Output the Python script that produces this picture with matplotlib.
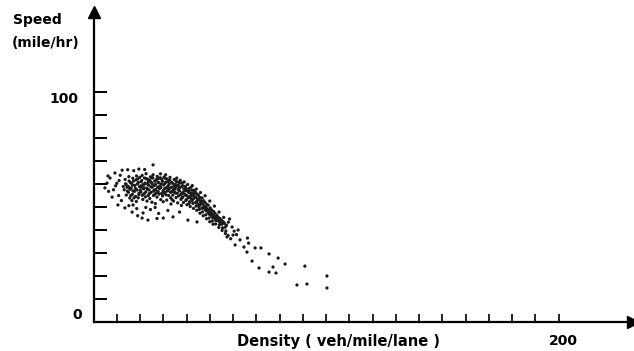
import numpy as np
import matplotlib
matplotlib.use("Agg")
import matplotlib.pyplot as plt

core_points = [
    (13.2,57.5),(13.8,60.1),(14.1,55.2),(13.6,62.0),(14.4,58.6),
    (15.0,56.4),(15.3,61.3),(14.9,59.0),(15.6,53.9),(15.2,63.2),(15.8,57.7),
    (16.4,60.2),(16.7,55.5),(16.2,58.3),(16.9,62.5),(16.5,52.8),(17.0,57.0),
    (17.8,59.4),(18.1,54.6),(18.3,61.8),(17.6,56.8),(18.5,63.5),(18.0,58.1),(18.4,52.4),
    (19.3,60.7),(19.6,56.0),(19.9,62.9),(19.2,54.0),(19.8,58.8),(20.1,57.3),
    (20.7,61.5),(21.0,55.1),(21.3,59.7),(20.9,63.7),(21.5,57.9),(21.2,53.3),(20.6,58.6),
    (22.2,60.4),(22.5,56.6),(22.8,62.3),(22.3,54.4),(22.9,58.2),(22.6,64.5),(23.0,52.6),
    (23.7,59.5),(24.0,55.8),(24.3,61.6),(23.9,57.4),(24.5,63.1),(24.2,53.7),(23.6,60.9),
    (25.2,58.6),(25.5,62.6),(25.8,55.0),(25.3,60.0),(25.9,56.9),(25.6,64.0),(25.1,52.1),
    (26.7,59.8),(27.0,61.9),(27.3,54.3),(26.8,57.6),(27.4,63.3),(27.1,56.2),(26.6,51.5),
    (28.1,60.5),(28.4,58.0),(28.7,62.7),(28.2,55.6),(28.9,53.2),(28.5,59.1),(28.8,64.4),
    (29.6,61.2),(29.9,57.1),(30.2,59.6),(29.7,54.8),(30.3,63.0),(30.0,52.3),(30.4,56.0),
    (31.1,60.8),(31.4,58.4),(31.7,62.1),(31.2,55.3),(31.8,57.0),(31.5,53.0),(31.0,64.0),
    (32.5,59.9),(32.8,61.7),(33.1,56.4),(32.6,58.0),(33.2,54.0),(32.9,62.9),(33.3,51.3),
    (34.0,60.3),(34.3,57.5),(34.6,59.0),(34.1,55.2),(34.7,62.0),(34.4,52.6),(34.8,56.6),
    (35.4,58.7),(35.7,61.0),(36.0,56.0),(35.5,54.1),(36.1,59.6),(35.8,62.6),(36.2,51.8),
    (36.9,58.2),(37.2,60.4),(37.5,55.4),(37.0,57.0),(37.6,53.3),(37.3,61.6),(37.8,50.7),
    (38.3,59.3),(38.6,56.5),(38.9,57.9),(38.4,54.4),(39.0,60.9),(38.7,52.0),(39.2,55.6),
    (39.8,58.0),(40.1,55.0),(40.4,56.9),(39.9,53.2),(40.5,59.8),(40.2,51.0),(40.7,54.0),
    (41.2,57.1),(41.5,54.6),(41.8,55.9),(41.3,52.3),(41.9,58.6),(41.6,50.2),(42.1,53.6),
    (42.6,55.8),(42.9,53.5),(43.2,57.2),(42.7,51.6),(43.3,54.7),(43.0,49.4),(43.5,56.0),
    (44.0,54.2),(44.3,52.3),(44.6,55.6),(44.1,50.4),(44.7,53.2),(44.4,48.6),(44.9,51.3),
    (45.4,53.0),(45.7,50.8),(46.0,54.0),(45.5,49.0),(46.1,51.9),(45.8,47.3),(46.3,52.6),
    (46.8,51.4),(47.1,49.6),(47.4,52.7),(46.9,47.9),(47.5,50.5),(47.2,46.2),
    (48.2,50.0),(48.5,48.3),(48.8,51.0),(48.3,46.6),(48.9,49.2),(48.6,44.9),
    (49.6,48.5),(49.9,46.8),(50.2,49.6),(49.7,45.2),(50.3,47.6),(50.0,43.6),
    (51.0,47.0),(51.3,45.3),(51.6,48.1),(51.1,43.9),(51.7,46.2),(51.4,42.5),
    (52.4,45.6),(52.7,44.0),(53.0,46.5),(52.5,42.6),(53.1,44.8),
    (53.8,43.9),(54.1,42.3),(54.4,45.0),(53.9,41.1),(54.5,43.4),
    (55.2,42.5),(55.5,40.9),(55.8,43.6),(55.3,39.8),
    (56.6,41.2),(56.9,39.6),(57.2,42.0),(56.7,38.5),
    (42.5,59.3),(44.2,57.8),(46.0,56.3),(48.0,54.9),(50.0,52.6),
    (52.0,50.4),(54.0,47.8),(56.0,45.5),(58.0,43.4),
]

# the darkest part of the cloud, between the rows above
dense_points = [
    (14.0,59.8),(14.6,56.9),(15.5,58.2),(15.9,60.6),(16.0,55.0),(16.8,59.5),
    (17.2,61.3),(17.4,54.0),(18.7,57.4),(18.9,60.0),(19.0,62.2),(19.5,55.4),
    (20.3,59.2),(20.4,56.5),(20.5,61.0),(21.7,58.4),(21.8,55.8),(21.9,62.6),
    (22.0,60.0),(23.2,57.8),(23.3,59.9),(23.4,62.0),(23.5,55.0),(24.7,58.8),
    (24.8,56.4),(24.9,60.6),(25.0,62.9),(26.1,57.4),(26.2,59.3),(26.3,61.2),
    (26.4,55.5),(27.6,58.6),(27.7,60.8),(27.8,56.7),(27.9,62.4),(29.0,58.5),
    (29.2,60.0),(29.3,55.9),(29.4,62.0),(30.6,58.0),(30.7,60.3),(30.8,56.4),
    (30.9,62.5),(32.0,59.1),(32.1,57.2),(32.2,61.0),(32.3,55.0),(33.5,58.6),
    (33.6,60.7),(33.7,56.7),(33.8,53.2),(35.0,57.9),(35.1,59.8),(35.2,56.1),
    (35.3,61.6),(36.4,57.6),(36.5,59.2),(36.6,54.8),(36.7,60.8),(37.9,58.8),
    (38.0,56.0),(38.1,54.0),(38.2,60.5),(39.4,57.2),(39.5,59.0),(39.6,55.1),
    (39.7,52.8),(41.0,56.3),(41.0,58.0),(41.1,54.1),(41.1,51.5),(42.3,55.1),
    (42.4,57.3),(42.4,52.8),(43.7,54.3),(43.8,56.4),(43.9,51.9),(45.1,53.6),
    (45.2,55.0),(45.3,50.2),(46.6,52.4),(46.6,49.5),(46.7,53.9),(48.0,51.9),
    (48.0,49.0),(49.3,50.8),(49.4,47.4),(50.7,48.8),(50.8,46.0),(52.2,47.3),
    (52.3,44.8),(53.6,45.6),(55.0,44.3),(56.4,42.8),
]

sparse_points = [
    (7.1,62.6),(9.2,64.8),(12.3,66.0),(4.9,58.3),(8.0,54.3),(10.5,50.9),
    (13.5,49.6),(16.6,47.8),(21.3,47.4),(23.4,44.3),(20.9,45.2),(17.0,50.9),
    (5.8,60.4),(25.6,68.3),(6.5,56.8),(9.5,59.2),(11.0,61.5),(8.6,57.5),
    (10.8,55.0),(12.0,52.8),(11.5,63.8),(6.2,63.5),(14.7,66.2),(17.3,65.8),
    (19.5,66.5),(22.0,66.3),(12.8,58.9),(10.0,60.3),(15.2,50.6),(18.6,49.3),
    (19.0,46.2),(24.5,48.9),(26.5,49.8),(28.0,47.2),(30.0,45.2),(34.2,45.7),
    (40.6,44.3),(44.5,43.5),(37.0,47.8),(32.0,48.5),(27.3,45.0),(22.5,49.8),
]

tail_points = [
    (58.5,44.8),(59.6,41.3),(60.5,39.5),(61.5,38.0),(62.2,40.0),(57.9,37.6),
    (59.0,36.2),(57.4,37.0),(60.0,37.8),(60.9,33.5),(63.0,35.7),(66.2,36.5),
    (66.7,34.3),(64.7,32.6),(66.0,30.4),(69.5,32.2),(72.0,32.2),(75.5,29.6),
    (79.4,27.8),(68.2,26.5),(71.2,23.5),(77.2,23.9),(75.5,21.7),(78.5,21.3),
    (82.4,25.2),(90.9,24.3),(100.4,20.0),(87.5,16.1),(91.8,16.5),(100.4,14.8),
]

x_ticks = np.arange(10, 201, 10)
y_ticks = np.arange(10, 101, 10)

fig = plt.figure(figsize=(6.34, 3.51), dpi=100)
ax = fig.add_axes([0.1475, 0.0826, 0.8508, 0.8846])
ax.set_xlim(0, 232)
ax.set_ylim(0, 135)

for pts in (core_points, dense_points, sparse_points, tail_points):
    d, s = zip(*pts)
    ax.scatter(d, s, s=5.5, color='#1a1a1a', edgecolors='none')

# axes drawn as arrows
for side in ('top', 'right'):
    ax.spines[side].set_visible(False)
ax.spines['left'].set_linewidth(1.6)
ax.spines['bottom'].set_linewidth(1.6)
ax.plot(1, 0, '>', color='k', ms=9, transform=ax.get_yaxis_transform(), clip_on=False)
ax.plot(0, 1, '^', color='k', ms=9, transform=ax.get_xaxis_transform(), clip_on=False)

ax.set_xticks(x_ticks)
ax.set_yticks(y_ticks)
ax.set_xticklabels([])
ax.set_yticklabels([])
ax.tick_params(axis='x', direction='in', length=6, width=1.2)
ax.tick_params(axis='y', direction='in', length=9, width=1.4)

font = dict(family='DejaVu Sans', fontweight='bold', fontsize=10)
ax.text(-6.5, 97, '100', ha='right', va='center', **font)
ax.text(-5, 3, '0', ha='right', va='center', **font)
ax.text(202, -8.3, '200', ha='center', va='center', clip_on=False, **font)
ax.text(105.4, -8.3, 'Density ( veh/mile/lane )', ha='center', va='center',
        clip_on=False, family='DejaVu Sans', fontweight='bold', fontsize=10.5)
fig.text(13/634, 1 - 20/351, 'Speed', ha='left', va='center', **font)
fig.text(12/634, 1 - 43/351, '(mile/hr)', ha='left', va='center', **font)

fig.savefig('out.png', dpi=100)
